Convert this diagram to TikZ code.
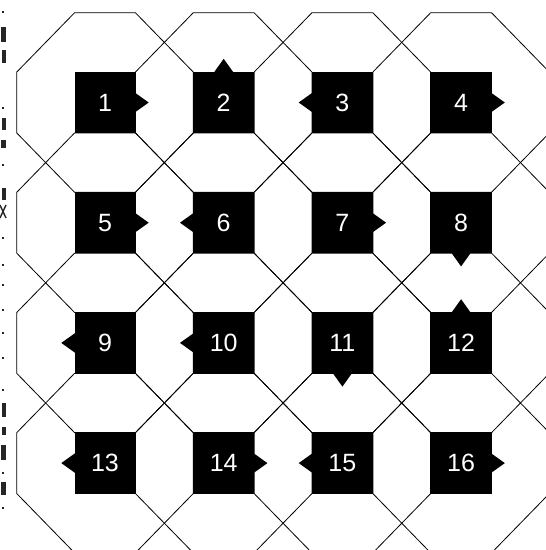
\documentclass[tikz,border=0pt]{standalone}
\usepackage{fontspec}
\setmainfont{Liberation Sans}
\newcommand\mytabR[1]{\fill (#1.east) ++(-1,-10) -- ++(14,10) -- ++(-14,10) -- cycle;}
\newcommand\mytabL[1]{\fill (#1.west) ++(1,-10) -- ++(-14,10) -- ++(14,10) -- cycle;}
\newcommand\mytabU[1]{\fill (#1.north) ++(-10,1) -- ++(10,-14) -- ++(10,14) -- cycle;}
\newcommand\mytabD[1]{\fill (#1.south) ++(-10,-1) -- ++(10,14) -- ++(10,-14) -- cycle;}
\begin{document}
\begin{tikzpicture}[x=1pt,y=-1pt,
  octo/.style={draw=black,line width=0.8pt},
  cell/.style={fill=black,text=white,minimum size=61pt,inner sep=0pt,
    font=\fontsize{25}{25}\selectfont},
  junk/.style={fill=black!85}]
\useasboundingbox (0,0) rectangle (546,550);
\fill[white] (0,0) rectangle (546,550);
\begin{scope}
\clip (0,0) rectangle (546,550);
\foreach \i in {0,...,3} {
  \foreach \j in {0,...,3} {
    \pgfmathsetmacro\cx{105+118.7*\j}
    \pgfmathsetmacro\cy{102.5+120.2*\i}
    \draw[octo] (\cx-30.5,\cy-89.7) -- (\cx+30.5,\cy-89.7) -- (\cx+88.2,\cy-30.5)
      -- (\cx+88.2,\cy+30.5) -- (\cx+30.5,\cy+89.7) -- (\cx-30.5,\cy+89.7)
      -- (\cx-88.2,\cy+30.5) -- (\cx-88.2,\cy-30.5) -- cycle;
  }
}
\end{scope}
\foreach \n/\j/\i in {1/0/0,2/1/0,3/2/0,4/3/0,5/0/1,6/1/1,7/2/1,8/3/1,
  9/0/2,10/1/2,11/2/2,12/3/2,13/0/3,14/1/3,15/2/3,16/3/3} {
  \node[cell] (s\n) at ({105+118.7*\j},{102.5+120.2*\i}) {\n};
}
\mytabR{s1}\mytabU{s2}\mytabL{s3}\mytabR{s4}
\mytabR{s5}\mytabL{s6}\mytabR{s7}\mytabD{s8}
\mytabL{s9}\mytabL{s10}\mytabD{s11}\mytabU{s12}
\mytabL{s13}\mytabR{s14}\mytabL{s15}\mytabR{s16}
% scan fragments at the left margin
\foreach \y in {12,108,165,238,265,285,310,333,358,390,473,508}
  \fill[junk] (1.5,\y-1.3) rectangle (4,\y+1.3);
\fill[junk] (1,27) rectangle (6,42);
\fill[junk] (2,50) rectangle (6,63);
\fill[junk] (2,118) rectangle (6,130);
\fill[junk] (1,140) rectangle (6,148);
\fill[junk] (2,188) rectangle (6,200);
\draw[line width=1.4pt,black!85] (0,205) -- (6,218) (0,218) -- (6,205);
\fill[junk] (2,403) rectangle (5.5,417);
\fill[junk] (2,427) rectangle (5.5,435);
\fill[junk] (1,445) rectangle (6,460);
\fill[junk] (0.5,482) rectangle (6,495);
\end{tikzpicture}
\end{document}
